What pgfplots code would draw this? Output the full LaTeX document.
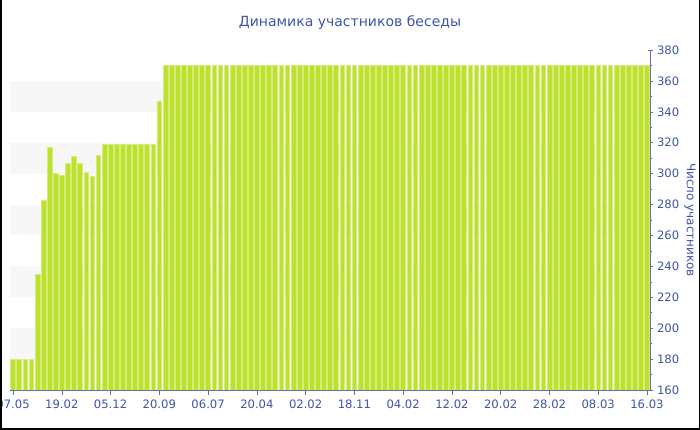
\documentclass[border=0pt]{standalone}
\usepackage{fontspec}
\setmainfont{DejaVu Sans}
\usepackage{pgfplots}
\pgfplotsset{compat=1.18}
\definecolor{barc}{RGB}{189,226,46}
\definecolor{baredge}{RGB}{214,236,128}
\definecolor{txt}{RGB}{61,86,165}
\definecolor{axc}{RGB}{95,112,170}
\definecolor{band}{RGB}{247,247,247}
\begin{document}
\begin{tikzpicture}[x=1pt,y=1pt]
\useasboundingbox (0,0) rectangle (700,430);
\begin{axis}[at={(10pt,40pt)}, anchor=south west, scale only axis,
  width=640pt, height=340pt,
  xmin=-0.5, xmax=104.5, ymin=160, ymax=380,
  ybar, bar width=0.78,
  axis x line*=bottom, axis y line*=right,
  axis line style={axc, line width=0.8pt},
  ytick={160,180,...,380}, minor y tick num=1,
  xtick={0,8,...,104},
  xticklabels={07.05,19.02,05.12,20.09,06.07,20.04,02.02,18.11,04.02,12.02,20.02,28.02,08.03,16.03},
  xtick align=outside, ytick align=center,
  major tick length=5pt, minor tick length=3pt,
  tick style={axc, line width=0.6pt},
  tick label style={font=\fontsize{11.6}{13}\selectfont, text=txt},
  /pgf/number format/assume math mode=true,
  yticklabel style={xshift=1pt},
  xticklabel style={yshift=-1pt},
]
\fill[band] (axis cs:-0.5,180) rectangle (axis cs:104.5,200);
\fill[band] (axis cs:-0.5,220) rectangle (axis cs:104.5,240);
\fill[band] (axis cs:-0.5,260) rectangle (axis cs:104.5,280);
\fill[band] (axis cs:-0.5,300) rectangle (axis cs:104.5,320);
\fill[band] (axis cs:-0.5,340) rectangle (axis cs:104.5,360);
\addplot[fill=barc, draw=baredge, line width=0.6pt] table {
x y
0 180
1 180
2 180
3 180
4 235
5 283
6 317
7 300
8 299
9 307
10 311
11 307
12 301
13 298
14 312
15 319
16 319
17 319
18 319
19 319
20 319
21 319
22 319
23 319
24 347
25 370
26 370
27 370
28 370
29 370
30 370
31 370
32 370
33 370
34 370
35 370
36 370
37 370
38 370
39 370
40 370
41 370
42 370
43 370
44 370
45 370
46 370
47 370
48 370
49 370
50 370
51 370
52 370
53 370
54 370
55 370
56 370
57 370
58 370
59 370
60 370
61 370
62 370
63 370
64 370
65 370
66 370
67 370
68 370
69 370
70 370
71 370
72 370
73 370
74 370
75 370
76 370
77 370
78 370
79 370
80 370
81 370
82 370
83 370
84 370
85 370
86 370
87 370
88 370
89 370
90 370
91 370
92 370
93 370
94 370
95 370
96 370
97 370
98 370
99 370
100 370
101 370
102 370
103 370
104 370
};
\end{axis}
\node[text=txt, font=\fontsize{14}{16}\selectfont] at (350,407) {Динамика участников беседы};
\node[text=txt, font=\fontsize{12}{14}\selectfont, rotate=-90] at (690,210) {Число участников};
\draw[black, line width=1.5pt] (0.75,430) -- (0.75,0.75) -- (699.25,0.75) -- (699.25,430);
\end{tikzpicture}
\end{document}
